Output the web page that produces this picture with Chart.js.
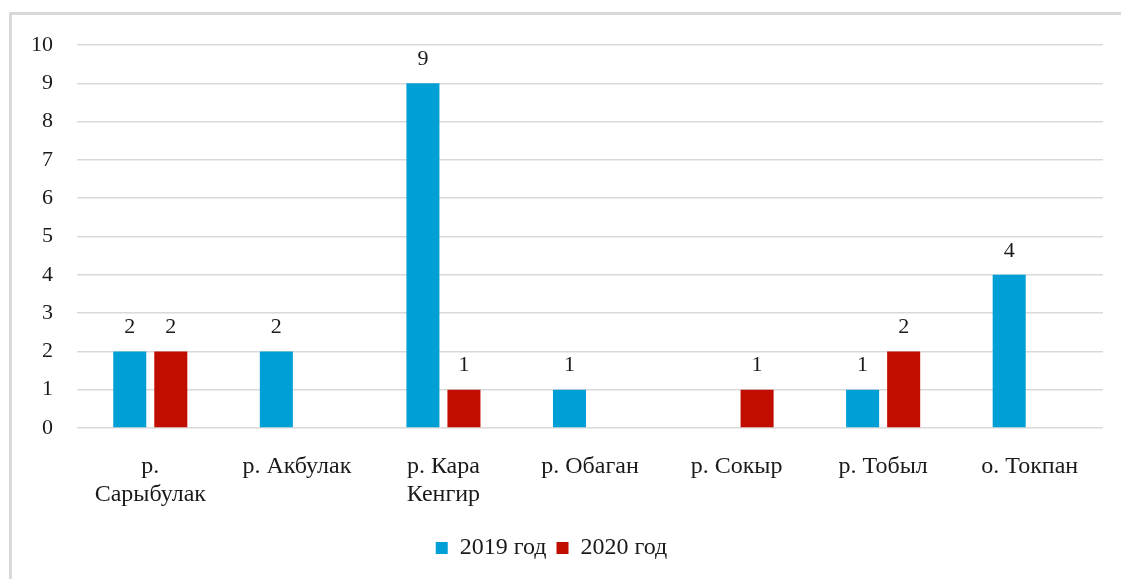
<!DOCTYPE html>
<html>
<head>
<meta charset="utf-8">
<script src="https://cdn.jsdelivr.net/npm/chart.js@4.4.0/dist/chart.umd.min.js"></script>
<style>
  body { margin: 0; background: #fff; }
  #ramka { position: absolute; left: 9px; top: 12px; width: 1200px; height: 700px;
           border-left: 3px solid #d9d9d9; border-top: 3px solid #d9d9d9; }
  #wrap { position: absolute; left: 0; top: 0; width: 1121px; height: 579px; }
</style>
</head>
<body>
<div id="ramka"></div>
<div id="wrap"><canvas id="grafik"></canvas></div>
<script>
var kategorii = [['р.', 'Сарыбулак'], 'р. Акбулак', ['р. Кара', 'Кенгир'], 'р. Обаган', 'р. Сокыр', 'р. Тобыл', 'о. Токпан'];
var god2019 = [2, 2, 9, 1, 0, 1, 4];
var god2020 = [2, 0, 1, 0, 1, 2, 0];

var shrift = 'Liberation Serif, Times New Roman, serif';

// podpisi nad stolbikami
var podpisi = {
    id: 'podpisi',
    afterDatasetsDraw(chart) {
        var ctx = chart.ctx;
        ctx.save();
        ctx.font = '22px ' + shrift;
        ctx.fillStyle = '#1a1a1a';
        ctx.textAlign = 'center';
        ctx.textBaseline = 'middle';
        chart.data.datasets.forEach((ds, i) => {
            chart.getDatasetMeta(i).data.forEach((bar, j) => {
                if (ds.data[j] > 0) {
                    ctx.fillText(ds.data[j], bar.x, bar.y - 24);
                }
            });
        });
        ctx.restore();
    }
};

var grafik = new Chart(document.getElementById('grafik').getContext('2d'), {
    type: 'bar',
    data: {
        labels: kategorii,
        datasets: [{
            label: '2019 год',
            data: god2019,
            backgroundColor: '#00A0D6'
        }, {
            label: '2020 год',
            data: god2020,
            backgroundColor: '#C00D00'
        }]
    },
    plugins: [podpisi],
    options: {
        responsive: true,
        maintainAspectRatio: false,
        animation: false,
        layout: {
            padding: { left: 0, right: 18, top: 45, bottom: 9 }
        },
        datasets: {
            bar: { categoryPercentage: 0.56, barPercentage: 0.805 }
        },
        plugins: {
            legend: {
                position: 'bottom',
                labels: {
                    boxWidth: 12,
                    boxHeight: 12,
                    padding: 10,
                    color: '#1a1a1a',
                    font: { family: shrift, size: 24 }
                }
            },
            tooltip: { enabled: false }
        },
        scales: {
            x: {
                grid: { display: false },
                border: { display: false },
                ticks: {
                    color: '#1a1a1a',
                    padding: 17,
                    maxRotation: 0,
                    autoSkip: false,
                    font: { family: shrift, size: 24, lineHeight: 1.15 }
                },
                afterFit(scale) { scale.height = 98; }
            },
            y: {
                min: 0,
                max: 10,
                grid: { color: '#d9d9d9', lineWidth: 1.5, drawTicks: false },
                border: { display: false },
                ticks: {
                    stepSize: 1,
                    color: '#1a1a1a',
                    padding: 24,
                    font: { family: shrift, size: 22 }
                },
                afterFit(scale) { scale.width = 77; }
            }
        }
    }
});
</script>
</body>
</html>
